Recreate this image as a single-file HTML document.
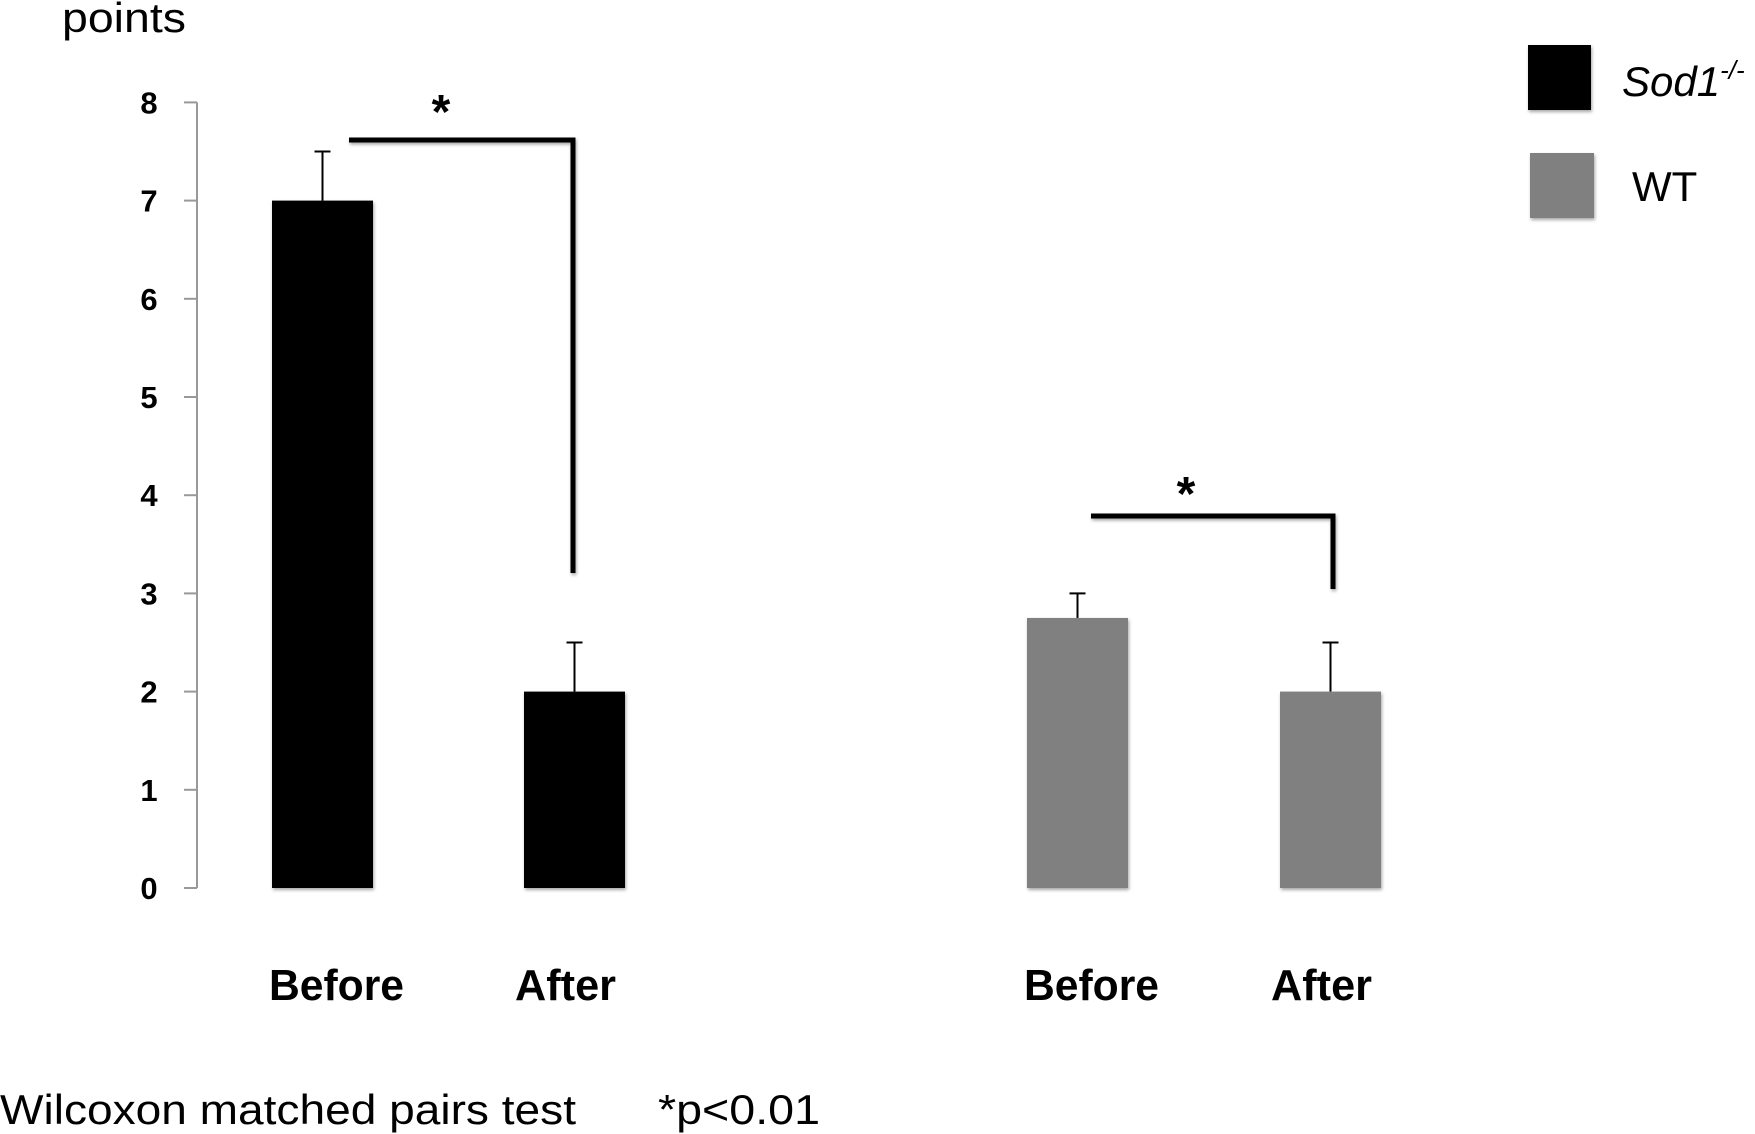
<!DOCTYPE html>
<html><head><meta charset="utf-8"><style>
html,body{margin:0;padding:0;background:#fff;}
svg{display:block;font-family:"Liberation Sans",sans-serif;}
</style></head><body>
<svg id="chart" width="1755" height="1134" viewBox="0 0 1755 1134">
<defs><filter id="sh" x="-20%" y="-20%" width="140%" height="140%"><feDropShadow dx="1" dy="2" stdDeviation="1.5" flood-color="#000" flood-opacity="0.35"/></filter></defs>
<text x="62" y="32" font-size="42" textLength="124" lengthAdjust="spacingAndGlyphs" fill="#000">points</text>
<g id="axis"></g>
<g id="bars"></g>
<g>
<polyline points="349,140 573,140 573,573" fill="none" stroke="#000" stroke-width="5" filter="url(#sh)"/>
<text x="441" y="128" font-size="48" font-weight="bold" text-anchor="middle">*</text>
</g>
<g>
<polyline points="1091,516 1333,516 1333,589" fill="none" stroke="#000" stroke-width="5" filter="url(#sh)"/>
<text x="1186" y="510" font-size="48" font-weight="bold" text-anchor="middle">*</text>
</g>
<g>
<rect x="1528" y="45" width="63" height="65" fill="#000" filter="url(#sh)"/>
<text x="1622" y="96" font-size="42" font-style="italic">Sod1<tspan font-size="26" dy="-17">-/-</tspan></text>
<rect x="1530" y="153" width="64" height="65" fill="#808080" filter="url(#sh)"/>
<text x="1632" y="201" font-size="42">WT</text>
</g>
<text x="0" y="1124" font-size="42" textLength="576" lengthAdjust="spacingAndGlyphs">Wilcoxon matched pairs test</text>
<text x="658" y="1124" font-size="42" textLength="162" lengthAdjust="spacingAndGlyphs">*p&lt;0.01</text>
</svg>
<script>
const categories = ["Before","After","Before","After"];
const groups = ["Sod1","Sod1","WT","WT"];
const values = [7, 2, 2.75, 2];
const errors = [0.5, 0.5, 0.25, 0.5];
const yTicks = [0,1,2,3,4,5,6,7,8];

const NS="http://www.w3.org/2000/svg";
const y0=888, unit=98.2, axisX=197;
const barLefts=[272,524,1027,1280], barW=101;
function yScale(v){return y0 - v*unit;}
function mk(tag,attrs,parent){const e=document.createElementNS(NS,tag);for(const k in attrs)e.setAttribute(k,attrs[k]);parent.appendChild(e);return e;}
const ax=document.getElementById('axis');
const bars=document.getElementById('bars');
const line=mk('line',{x1:axisX,x2:axisX,y1:yScale(yTicks[yTicks.length-1]),y2:yScale(0),stroke:'#999','stroke-width':2},ax);


yTicks.forEach(t=>{
  const y=yScale(t);
  const tk=mk('line',{x1:184,x2:axisX,y1:y,y2:y,stroke:'#999','stroke-width':2},ax);
  
  
  const lb=mk('text',{x:149,y:y+11,'font-size':31,'font-weight':'bold','text-anchor':'middle'},ax);
  lb.textContent=t;
  
  
});
values.forEach((v,i)=>{
  const x=barLefts[i], cx=x+barW/2;
  const col=groups[i]==="WT"?"#808080":"#000";
  const eTop=yScale(v+errors[i]);
  const el=mk('line',{x1:cx,x2:cx,y1:eTop,y2:yScale(v),stroke:'#000','stroke-width':2},bars);
  
  
  const cap=mk('line',{x1:cx-8,x2:cx+8,y1:eTop,y2:eTop,stroke:'#000','stroke-width':2},bars);
  
  
  const r=mk('rect',{x:x,y:yScale(v),width:barW,height:y0-yScale(v),fill:col,filter:'url(#sh)'},bars);
  
  
  const isBefore=categories[i]==="Before";
  const t=mk('text',{x:cx+(isBefore?14:-9),y:1000,'font-size':44,'font-weight':'bold','text-anchor':'middle',textLength:isBefore?135:101,lengthAdjust:'spacingAndGlyphs'},bars);
  t.textContent=categories[i];
  
  
});
</script>
</body></html>
